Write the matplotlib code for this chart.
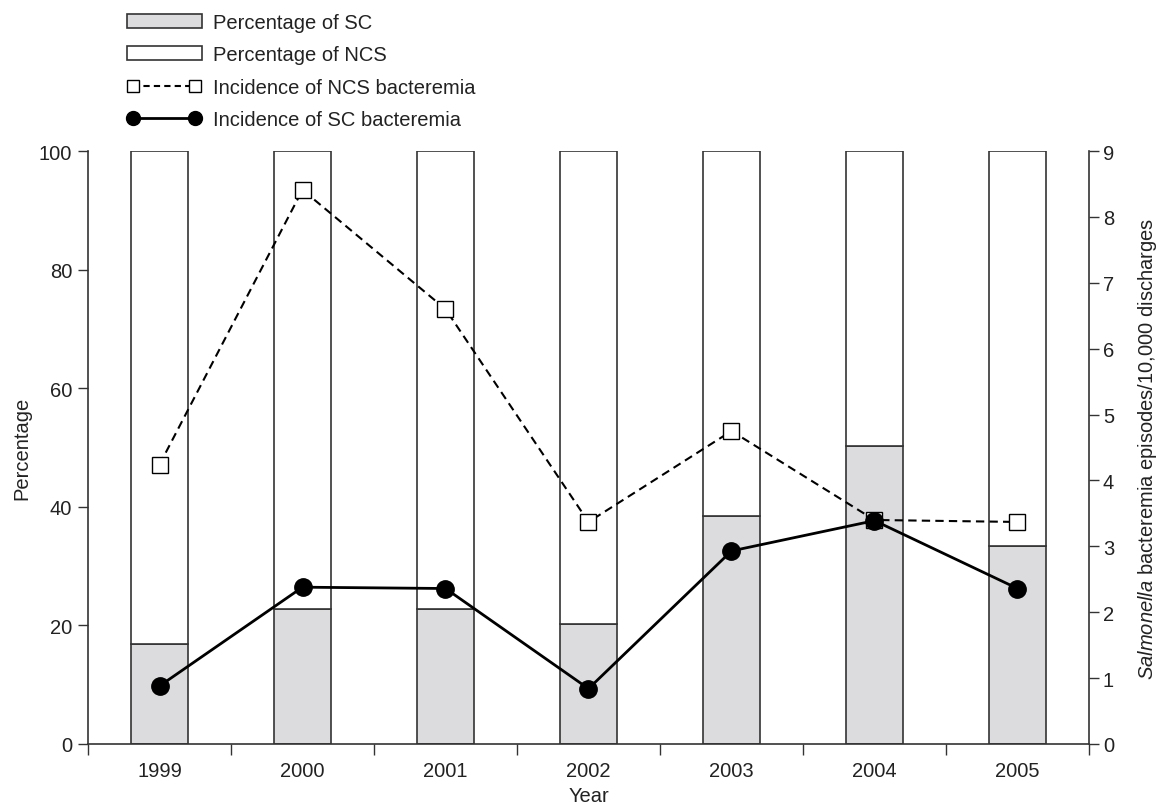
import matplotlib
matplotlib.use('Agg')
import matplotlib.pyplot as plt
from matplotlib.patches import Patch
from matplotlib.lines import Line2D
import numpy as np

years = ['1999', '2000', '2001', '2002', '2003', '2004', '2005']
pct_sc = [16.8, 22.8, 22.8, 20.3, 38.5, 50.2, 33.4]
pct_ncs = [100 - v for v in pct_sc]
inc_ncs = [4.24, 8.41, 6.60, 3.37, 4.75, 3.40, 3.37]
inc_sc = [0.88, 2.38, 2.36, 0.84, 2.93, 3.39, 2.36]

plt.rcParams['font.family'] = ['Liberation Sans', 'DejaVu Sans']
plt.rcParams['mathtext.fontset'] = 'custom'
plt.rcParams['mathtext.rm'] = 'Liberation Sans'
plt.rcParams['mathtext.it'] = 'Liberation Sans:italic'
plt.rcParams['font.size'] = 14.5

EDGE = '#333333'
TXT = '#222222'
SCFILL = '#dcdcde'

fig = plt.figure(figsize=(11.58, 8.04), dpi=100)
ax = fig.add_axes([88 / 1158, 59 / 804, 1001 / 1158, 593 / 804])
x = np.arange(len(years))
ax.bar(x, pct_sc, width=0.4, color=SCFILL, edgecolor=EDGE, linewidth=1.2, zorder=2)
ax.bar(x, pct_ncs, bottom=pct_sc, width=0.4, color='white', edgecolor=EDGE, linewidth=1.2, zorder=2)
ax.set_xlim(-0.5, 6.5)
ax.set_ylim(0, 100)
ax.set_yticks([0, 20, 40, 60, 80, 100])

ax.set_xticks(np.arange(-0.5, 7, 1))
ax.set_xticklabels([])
ax.set_xticks(x, minor=True)
ax.set_xticklabels(years, minor=True)
ax.tick_params(axis='x', which='major', length=8, width=1, color=EDGE, direction='out')
ax.tick_params(axis='x', which='minor', length=0, pad=12.5, labelcolor=TXT)
ax.tick_params(axis='y', length=7.5, width=1, color=EDGE, pad=4, labelcolor=TXT)
ax.set_xlabel('Year', labelpad=4, color=TXT)
ax.set_ylabel('Percentage', labelpad=5, color=TXT)
for s in ['top', 'right']:
    ax.spines[s].set_visible(False)
for s in ['left', 'bottom']:
    ax.spines[s].set_color(EDGE)
    ax.spines[s].set_linewidth(1.2)

ax2 = ax.twinx()
ax2.set_ylim(0, 9)
ax2.set_yticks(range(10))
ax2.plot(x, inc_ncs, ls='--', dashes=(4, 2.5), color='black', lw=1.5,
         marker='s', ms=11.5, mfc='white', mec='black', mew=1.0, zorder=3)
ax2.plot(x, inc_sc, ls='-', color='black', lw=2, marker='o', ms=12.5,
         mfc='black', mec='black', zorder=4)
ax2.tick_params(axis='y', length=7, width=1, color=EDGE, pad=3, labelcolor=TXT)
ax2.set_ylabel(r'$\mathit{Salmonella}$ bacteremia episodes/10,000 discharges',
               labelpad=16, color=TXT)
for s in ['top', 'left', 'bottom']:
    ax2.spines[s].set_visible(False)
ax2.spines['right'].set_color(EDGE)
ax2.spines['right'].set_linewidth(1.2)

handles = [
    Patch(facecolor=SCFILL, edgecolor=EDGE, linewidth=1.2),
    Patch(facecolor='white', edgecolor=EDGE, linewidth=1.2),
    Line2D([0], [0], ls='--', dashes=(3, 2), color='black', lw=1.5, marker='s', ms=9,
           mfc='white', mec='black', mew=1.0),
    Line2D([0], [0], ls='-', color='black', lw=2, marker='o', ms=10, mfc='black', mec='black'),
]
labels = ['Percentage of SC', 'Percentage of NCS', 'Incidence of NCS bacteremia',
          'Incidence of SC bacteremia']
fig.legend(handles, labels, loc='upper left', bbox_to_anchor=(127 / 1158, 1 - 14 / 804),
           bbox_transform=fig.transFigure, frameon=False, borderpad=0, borderaxespad=0,
           handlelength=3.7, handletextpad=0.55, labelspacing=0.67, numpoints=2,
           labelcolor=TXT)

fig.savefig('out.png', dpi=100)
